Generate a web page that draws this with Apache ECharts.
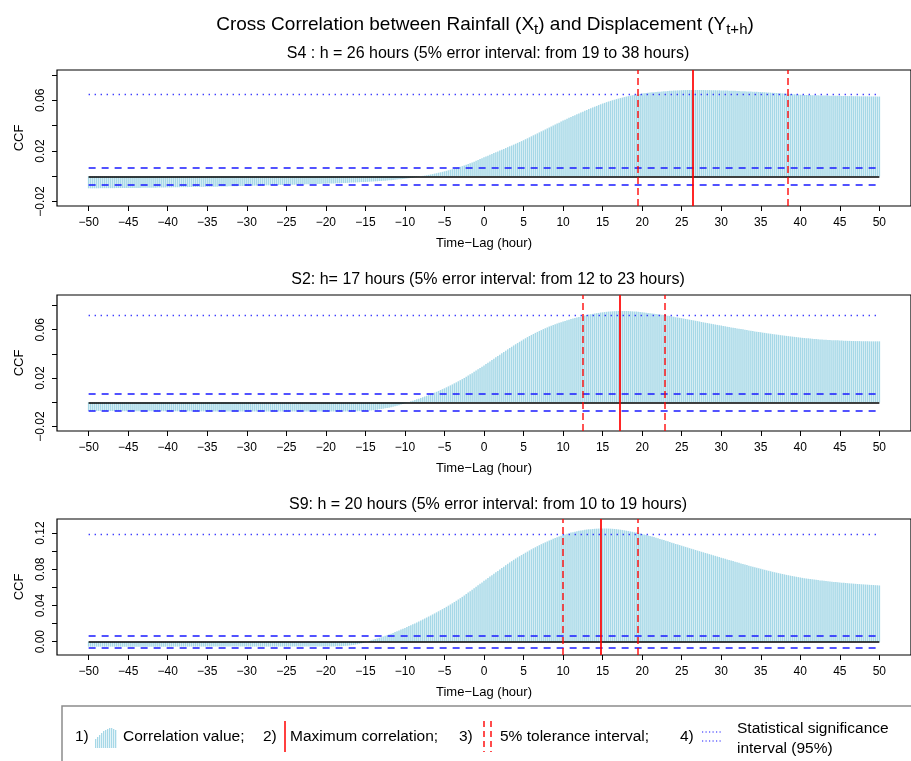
<!DOCTYPE html>
<html>
<head>
<meta charset="utf-8">
<script src="https://cdn.jsdelivr.net/npm/echarts@6/dist/echarts.min.js"></script>
<style>
  html, body { margin: 0; padding: 0; background: #fff; }
  #chart { width: 911px; height: 761px; }
</style>
</head>
<body>
<div id="chart"></div>
<script>
// Cross-correlation of rainfall and displacement, three monitoring stations.
// Lags run from -50 h to +50 h in 15-minute steps.
const LAG_START = -50;
const LAG_STEP = 0.25;
// CCF values are stored in units of 1e-4.
const CCF_UNIT = 1e-4;

const ccfS4 = [
  -95,-95,-95,-95, -95,-95,-94,-94, -94,-94,-94,-94, -94,-94,-93,-93, -93,-93,-93,-93,
  -93,-93,-92,-92, -92,-92,-92,-91, -91,-91,-91,-90, -90,-90,-90,-89, -89,-89,-89,-88,
  -88,-88,-88,-87, -87,-87,-87,-86, -86,-86,-86,-85, -85,-85,-85,-84, -84,-84,-84,-83,
  -83,-83,-83,-82, -82,-82,-81,-81, -80,-80,-80,-79, -79,-79,-78,-78, -77,-77,-77,-76,
  -76,-76,-75,-75, -74,-74,-74,-73, -73,-72,-72,-72, -71,-71,-70,-70, -70,-69,-69,-69,
  -68,-68,-67,-67, -67,-66,-66,-65, -65,-65,-64,-64, -63,-63,-62,-62, -61,-61,-60,-60,
  -59,-58,-58,-57, -57,-56,-55,-55, -54,-53,-53,-52, -51,-50,-50,-49, -48,-47,-46,-46,
  -45,-44,-43,-42, -41,-40,-39,-38, -37,-36,-35,-33, -32,-31,-29,-28, -26,-24,-23,-21,
  -19,-17,-15,-13, -11,-8,-5,-3, 0,3,5,8, 11,14,17,21, 24,28,31,35,
  39,43,47,52, 56,61,65,70, 75,80,85,91, 96,102,109,115, 122,129,136,143,
  150,157,163,170, 176,183,190,196, 203,210,216,223, 230,237,243,250, 257,264,271,278,
  285,293,300,308, 316,324,331,339, 347,355,362,370, 378,386,393,401, 409,417,424,432,
  440,447,455,462, 469,476,483,490, 497,504,510,517, 524,531,537,544, 550,556,563,569,
  575,580,586,591, 596,601,605,610, 614,618,622,626, 630,633,637,640, 643,646,649,651,
  654,656,658,660, 662,664,665,667, 668,669,671,672, 673,674,675,676, 677,678,679,679,
  680,681,681,682, 682,682,682,682, 682,682,682,682, 681,681,681,680, 680,680,679,679,
  678,678,677,677, 676,676,675,675, 674,674,673,673, 672,671,671,670, 669,668,668,667,
  666,665,664,663, 662,661,660,659, 658,657,656,655, 654,653,651,650, 649,648,647,646,
  645,644,643,643, 642,642,641,641, 640,640,639,639, 638,638,638,637, 637,637,636,636,
  636,635,635,635, 634,634,634,633, 633,633,632,632, 632,632,632,631, 631,631,631,630,
  630
];

const ccfS2 = [
  -72,-72,-72,-72, -72,-72,-72,-72, -72,-72,-72,-72, -72,-72,-73,-73, -73,-73,-73,-73,
  -73,-73,-73,-73, -73,-73,-73,-73, -73,-73,-74,-74, -74,-74,-74,-74, -74,-74,-74,-74,
  -74,-74,-74,-74, -74,-74,-74,-74, -74,-74,-75,-75, -75,-75,-75,-75, -75,-75,-75,-75,
  -75,-75,-75,-75, -75,-75,-75,-75, -75,-75,-75,-75, -75,-75,-76,-76, -76,-76,-76,-76,
  -76,-76,-76,-76, -76,-76,-76,-76, -76,-76,-76,-76, -76,-76,-76,-76, -76,-76,-76,-76,
  -76,-76,-76,-76, -76,-76,-76,-76, -76,-76,-76,-76, -76,-76,-76,-76, -76,-76,-76,-76,
  -76,-76,-76,-76, -76,-76,-76,-76, -76,-76,-76,-75, -75,-75,-75,-74, -74,-73,-73,-72,
  -71,-70,-68,-67, -65,-63,-61,-58, -56,-53,-50,-47, -44,-41,-37,-33, -29,-24,-19,-14,
  -8,-3,3,8, 13,19,25,30, 36,42,48,54, 60,67,74,80, 87,94,102,109,
  116,124,132,140, 148,157,165,174, 183,192,202,211, 221,231,241,252, 262,273,284,294,
  305,316,327,338, 349,360,372,383, 394,405,416,427, 438,449,459,470, 480,490,500,510,
  520,529,539,548, 557,565,574,582, 590,597,605,612, 619,626,632,639, 645,651,657,662,
  668,673,678,683, 688,693,697,702, 706,710,714,718, 722,725,728,731, 734,737,739,742,
  744,746,748,750, 751,752,753,754, 755,755,755,755, 755,754,753,752, 751,750,748,747,
  745,743,741,739, 737,735,733,730, 728,726,723,721, 718,715,713,710, 707,704,701,698,
  695,692,689,686, 683,680,677,674, 671,668,664,661, 658,655,652,649, 646,643,640,637,
  634,631,628,625, 622,619,617,614, 611,608,605,603, 600,597,594,592, 589,586,584,581,
  579,576,574,571, 569,567,564,562, 560,558,555,553, 551,549,547,545, 543,541,539,537,
  535,533,532,530, 529,527,526,524, 523,522,520,519, 518,517,516,515, 514,513,512,512,
  511,510,509,509, 508,508,507,507, 506,506,506,505, 505,505,505,504, 504,504,504,504,
  504
];

const ccfS9 = [
  -55,-55,-55,-55, -55,-55,-55,-55, -55,-55,-55,-55, -55,-55,-55,-55, -55,-55,-55,-55,
  -55,-55,-55,-55, -55,-55,-55,-55, -55,-55,-55,-55, -55,-55,-55,-55, -55,-55,-55,-55,
  -55,-55,-54,-54, -54,-54,-54,-54, -54,-54,-54,-54, -54,-54,-54,-54, -54,-54,-54,-54,
  -54,-54,-54,-54, -54,-54,-54,-54, -54,-54,-54,-54, -54,-54,-54,-54, -54,-54,-54,-54,
  -54,-54,-54,-54, -54,-54,-54,-54, -54,-54,-54,-54, -54,-54,-54,-54, -54,-54,-54,-54,
  -54,-54,-54,-54, -54,-54,-54,-54, -54,-54,-54,-54, -54,-54,-53,-53, -53,-53,-53,-53,
  -53,-53,-53,-52, -52,-51,-51,-50, -49,-48,-46,-45, -42,-39,-36,-32, -28,-23,-18,-12,
  -5,1,8,15, 22,29,36,43, 50,57,65,72, 80,89,97,106, 115,124,134,143,
  152,162,172,182, 192,202,213,223, 234,245,256,267, 278,289,301,312, 324,336,348,360,
  372,385,398,411, 424,438,452,466, 480,495,511,526, 542,558,574,590, 606,622,639,655,
  672,688,704,719, 735,751,767,782, 798,814,829,845, 860,875,889,904, 918,931,944,957,
  970,983,995,1008, 1020,1032,1043,1055, 1066,1077,1087,1097, 1107,1117,1126,1136, 1145,1154,1162,1170,
  1178,1185,1192,1199, 1205,1210,1215,1220, 1225,1229,1232,1236, 1239,1241,1243,1245, 1247,1248,1249,1250,
  1250,1250,1250,1249, 1248,1247,1245,1243, 1240,1237,1234,1230, 1226,1222,1218,1214, 1210,1205,1200,1195,
  1190,1184,1179,1173, 1167,1161,1155,1148, 1142,1135,1129,1122, 1115,1108,1101,1094, 1087,1080,1074,1067,
  1060,1053,1047,1040, 1033,1026,1020,1013, 1006,1000,993,987, 980,974,967,961, 954,948,941,935,
  928,922,915,909, 902,896,890,883, 877,871,864,858, 852,846,840,834, 828,822,816,811,
  805,799,794,788, 783,778,772,767, 762,757,752,748, 743,738,734,729, 725,721,717,713,
  709,705,702,698, 695,692,689,686, 683,680,677,675, 672,669,667,664, 662,660,658,656,
  654,652,650,648, 646,644,643,641, 639,637,636,634, 633,631,630,628, 627,626,624,623,
  621
];

// Per-panel annotations
const panelSeries = [ccfS4, ccfS2, ccfS9];
const panelTitles = [
  'S4 : h = 26 hours (5% error interval: from 19 to 38 hours)',
  'S2: h= 17 hours (5% error interval: from 12 to 23 hours)',
  'S9: h = 20 hours (5% error interval: from 10 to 19 hours)'
];
const maxCorrLag = [26.4, 17.15, 14.75];
const toleranceLow = [19.45, 12.5, 10.0];
const toleranceHigh = [38.4, 22.9, 19.45];
const significanceLevel = [0.0648, 0.0722, 0.1192];
const confidenceBand = [0.0068, 0.0068, 0.0068];

// Axis extents and ticks
const yMin = [-0.0235, -0.0237, -0.0147];
const yMax = [0.084, 0.0887, 0.1355];
const yTickValues = [
  [-0.02, 0, 0.02, 0.04, 0.06, 0.08],
  [-0.02, 0, 0.02, 0.04, 0.06, 0.08],
  [0, 0.02, 0.04, 0.06, 0.08, 0.10, 0.12]
];
const yLabelValues = [
  [-0.02, 0.02, 0.06],
  [-0.02, 0.02, 0.06],
  [0, 0.04, 0.08, 0.12]
];
const xTickValues = [-50,-45,-40,-35,-30,-25,-20,-15,-10,-5,0,5,10,15,20,25,30,35,40,45,50];
const X_MIN = -54, X_MAX = 54;

const FONT = '"Liberation Sans", Arial, Helvetica, sans-serif';
const gridTops = [70, 295, 519];
const GRID_H = 136;
const GRID_LEFT = 57;
const GRID_W = 862;

const MINUS = '\u2212';
const fmtY = v => (v < 0 ? MINUS : '') + Math.abs(v).toFixed(2);
const fmtX = v => (v < 0 ? MINUS : '') + Math.abs(v);

const BLUE = '#1a1aff';
const RED = '#ff0000';
const BAR_BLUE = '#a6d8e7';

const grids = [], xAxes = [], yAxes = [], series = [];

panelSeries.forEach((vals, p) => {
  grids.push({
    left: GRID_LEFT, top: gridTops[p], width: GRID_W, height: GRID_H,
    show: true, borderColor: '#000', borderWidth: 1.2, backgroundColor: 'transparent'
  });
  xAxes.push({
    type: 'value', gridIndex: p, min: X_MIN, max: X_MAX, position: 'bottom',
    axisLine: { show: false, onZero: false },
    splitLine: { show: false },
    axisTick: { show: true, length: 5, inside: false, customValues: xTickValues, lineStyle: { color: '#000', width: 1 } },
    axisLabel: { show: true, customValues: xTickValues, formatter: fmtX, color: '#000', fontSize: 12, fontFamily: FONT, margin: 11 },
    name: 'Time\u2212Lag (hour)', nameLocation: 'middle', nameGap: 31,
    nameTextStyle: { color: '#000', fontSize: 13, fontFamily: FONT }
  });
  yAxes.push({
    type: 'value', gridIndex: p, min: yMin[p], max: yMax[p], position: 'left',
    axisLine: { show: false, onZero: false },
    splitLine: { show: false },
    axisTick: { show: true, length: 5, inside: false, customValues: yTickValues[p], lineStyle: { color: '#000', width: 1 } },
    axisLabel: { show: true, customValues: yLabelValues[p], formatter: fmtY, rotate: 90, color: '#000', fontSize: 12, fontFamily: FONT, margin: 10 },
    name: 'CCF', nameLocation: 'middle', nameGap: 31, nameRotate: 90,
    nameTextStyle: { color: '#000', fontSize: 13, fontFamily: FONT }
  });

  const sig = significanceLevel[p], band = confidenceBand[p];
  const hLine = (y, style) => [
    { coord: [-50, y], lineStyle: style },
    { coord: [50, y], lineStyle: style }
  ];
  const dotted = { color: BLUE, width: 1.4, type: [1.3, 4.7], opacity: 0.9 };
  const dashedBlue = { color: BLUE, width: 1.5, type: [7, 6] };
  const zero = { color: '#000', width: 1.5, type: 'solid' };

  series.push({
    type: 'bar',
    xAxisIndex: p, yAxisIndex: p,
    data: vals.map((v, i) => [LAG_START + i * LAG_STEP, v * CCF_UNIT]),
    barWidth: 1.5,
    itemStyle: { color: BAR_BLUE },
    silent: true,
    markLine: {
      silent: true, symbol: ['none', 'none'], label: { show: false },
      data: [
        hLine(sig, dotted),
        hLine(band, dashedBlue),
        hLine(-band, dashedBlue),
        hLine(0, zero),
        { xAxis: toleranceLow[p], lineStyle: { color: RED, width: 1.5, type: [7, 4], opacity: 0.9 } },
        { xAxis: toleranceHigh[p], lineStyle: { color: RED, width: 1.5, type: [7, 4], opacity: 0.9 } },
        { xAxis: maxCorrLag[p], lineStyle: { color: RED, width: 1.7, type: 'solid' } }
      ]
    }
  });
});

// Titles and the legend box drawn as graphic elements
const graphics = [];
graphics.push({
  type: 'text', x: 485, y: 25,
  style: {
    text: 'Cross Correlation between Rainfall (X{s|t}) and Displacement (Y{s|t+h})',
    align: 'center', verticalAlign: 'middle',
    font: '19px ' + FONT, fill: '#000',
    rich: { s: { font: '15px ' + FONT, fill: '#000', padding: [10, 0, 0, 0] } }
  }
});
const subtitleY = [54, 280, 505];
panelTitles.forEach((t, p) => {
  graphics.push({
    type: 'text', x: 488, y: subtitleY[p],
    style: { text: t, align: 'center', verticalAlign: 'middle', font: '16px ' + FONT, fill: '#000' }
  });
});

// Legend
const LEG_Y = 737;
const LEG_FONT = '15.5px ' + FONT;
graphics.push({
  type: 'rect', shape: { x: 62, y: 706, width: 900, height: 80 },
  style: { fill: 'none', stroke: '#8c8c8c', lineWidth: 1.5 }
});
const legText = (t, x, y) => ({
  type: 'text', x: x, y: y,
  style: { text: t, align: 'left', verticalAlign: 'middle', font: LEG_FONT, fill: '#000' }
});
graphics.push(legText('1)', 75, LEG_Y));
// small bar-cluster icon
const iconHeights = [9, 11, 13, 15, 17, 18, 19, 20, 20, 19, 18];
iconHeights.forEach((h, i) => {
  graphics.push({
    type: 'rect', shape: { x: 95 + i * 2, y: 748 - h, width: 1.3, height: h },
    style: { fill: BAR_BLUE }
  });
});
graphics.push(legText('Correlation value;', 123, LEG_Y));
graphics.push(legText('2)', 263, LEG_Y));
graphics.push({ type: 'line', shape: { x1: 285, y1: 721, x2: 285, y2: 752 }, style: { stroke: RED, lineWidth: 1.5 } });
graphics.push(legText('Maximum correlation;', 290, LEG_Y));
graphics.push(legText('3)', 459, LEG_Y));
[484, 491].forEach(x => graphics.push({
  type: 'line', shape: { x1: x, y1: 721, x2: x, y2: 752 },
  style: { stroke: RED, lineWidth: 1.4, lineDash: [6, 4] }
}));
graphics.push(legText('5% tolerance interval;', 500, LEG_Y));
graphics.push(legText('4)', 680, LEG_Y));
[732, 741].forEach(y => graphics.push({
  type: 'line', shape: { x1: 702, y1: y, x2: 722, y2: y },
  style: { stroke: BLUE, lineWidth: 1.2, lineDash: [1.2, 2.3] }
}));
graphics.push(legText('Statistical significance', 737, 729));
graphics.push(legText('interval (95%)', 737, 749));

const chart = echarts.init(document.getElementById('chart'), null, { renderer: 'canvas' });
chart.setOption({
  animation: false,
  backgroundColor: '#fff',
  grid: grids,
  xAxis: xAxes,
  yAxis: yAxes,
  series: series,
  graphic: graphics
});
</script>
</body>
</html>
